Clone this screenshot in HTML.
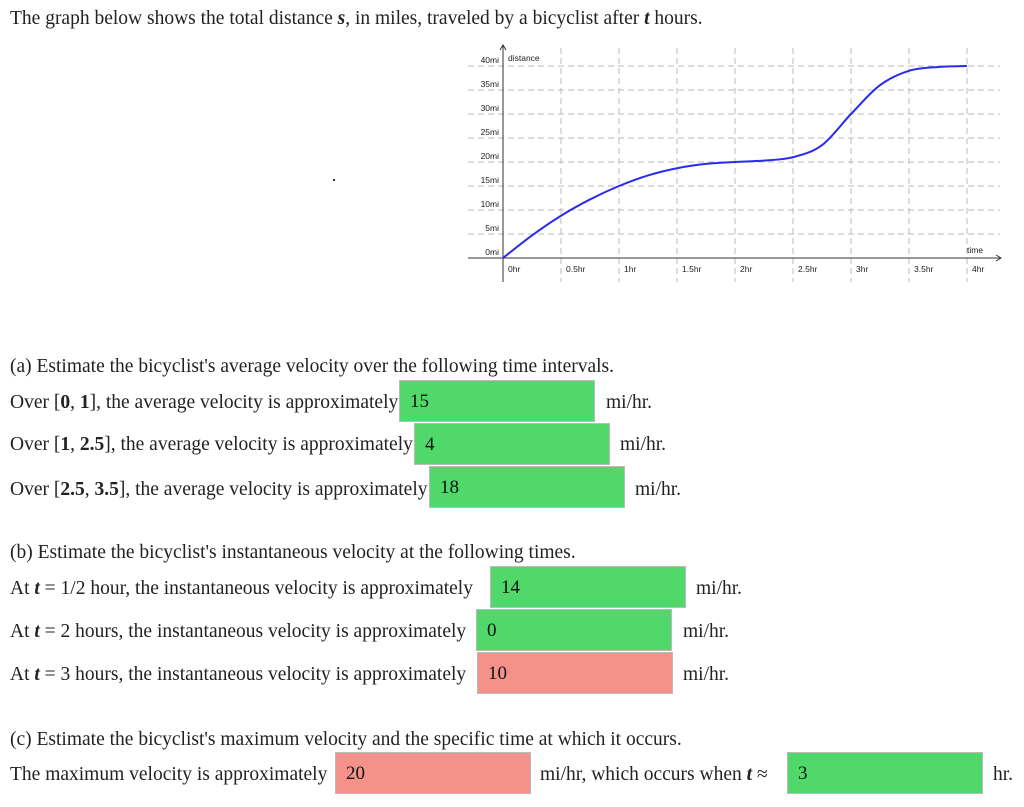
<!DOCTYPE html>
<html><head><meta charset="utf-8"><style>
body{margin:0;width:1024px;height:807px;background:#fff;position:relative;overflow:hidden;font-family:"Liberation Serif",serif;color:#222;font-size:19.5px}
.t{position:absolute;white-space:nowrap;line-height:20px;transform:translateY(2px)}
.in{position:absolute;height:42px;width:196px;box-sizing:border-box;border:1px solid #bbb;font-size:19px;line-height:42px;padding-left:10px;color:#111}
.g{background:#50d96a}.r{background:#f4928a}
svg text{font-family:"Liberation Sans",sans-serif;font-size:8.5px;fill:#222}
</style></head><body>
<div class="t" style="left:10px;top:7px">The graph below shows the total distance <i><b>s</b></i>, in miles, traveled by a bicyclist after <i><b>t</b></i> hours.</div>
<div style="position:absolute;left:333px;top:179px;width:2px;height:2px;background:#2233aa"></div>
<svg style="position:absolute;left:0;top:0" width="1024" height="300" id="chart"></svg>

<div class="t" style="left:10px;top:355px">(a) Estimate the bicyclist's average velocity over the following time intervals.</div>
<div class="t" style="left:10px;top:391px">Over [<b>0</b>, <b>1</b>], the average velocity is approximately</div>
<div class="in g" style="left:399px;top:380px">15</div>
<div class="t" style="left:606px;top:391px">mi/hr.</div>
<div class="t" style="left:10px;top:433px">Over [<b>1</b>, <b>2.5</b>], the average velocity is approximately</div>
<div class="in g" style="left:414px;top:423px">4</div>
<div class="t" style="left:620px;top:433px">mi/hr.</div>
<div class="t" style="left:10px;top:478px">Over [<b>2.5</b>, <b>3.5</b>], the average velocity is approximately</div>
<div class="in g" style="left:429px;top:466px">18</div>
<div class="t" style="left:635px;top:478px">mi/hr.</div>

<div class="t" style="left:10px;top:541px">(b) Estimate the bicyclist's instantaneous velocity at the following times.</div>
<div class="t" style="left:10px;top:577px">At <i><b>t</b></i> = 1/2 hour, the instantaneous velocity is approximately</div>
<div class="in g" style="left:490px;top:566px">14</div>
<div class="t" style="left:696px;top:577px">mi/hr.</div>
<div class="t" style="left:10px;top:620px">At <i><b>t</b></i> = 2 hours, the instantaneous velocity is approximately</div>
<div class="in g" style="left:476px;top:609px">0</div>
<div class="t" style="left:683px;top:620px">mi/hr.</div>
<div class="t" style="left:10px;top:663px">At <i><b>t</b></i> = 3 hours, the instantaneous velocity is approximately</div>
<div class="in r" style="left:477px;top:652px">10</div>
<div class="t" style="left:683px;top:663px">mi/hr.</div>

<div class="t" style="left:10px;top:728px">(c) Estimate the bicyclist's maximum velocity and the specific time at which it occurs.</div>
<div class="t" style="left:10px;top:763px">The maximum velocity is approximately</div>
<div class="in r" style="left:335px;top:752px">20</div>
<div class="t" style="left:540px;top:763px">mi/hr, which occurs when <i><b>t</b></i> ≈</div>
<div class="in g" style="left:787px;top:752px">3</div>
<div class="t" style="left:993px;top:763px">hr.</div>
<script>
const times=[0,0.25,0.5,0.75,1,1.25,1.5,1.75,2,2.25,2.5,2.75,3,3.25,3.5,3.75,4];
const dist=[0,4.7,8.8,12.2,15,17.2,18.7,19.6,20,20.3,21,23.5,30,36,39,39.8,40];
const xTicks=[0,0.5,1,1.5,2,2.5,3,3.5,4];
const xLabels=["0hr","0.5hr","1hr","1.5hr","2hr","2.5hr","3hr","3.5hr","4hr"];
const yTicks=[0,5,10,15,20,25,30,35,40];
const yLabels=["0mi","5mi","10mi","15mi","20mi","25mi","30mi","35mi","40mi"];
const X=t=>503+t*116, Y=d=>258-d*4.8;
const svg=document.getElementById('chart'),NS='http://www.w3.org/2000/svg';
function mk(tag,a){const e=document.createElementNS(NS,tag);for(const k in a)e.setAttribute(k,a[k]);svg.appendChild(e);return e;}
xTicks.forEach((t,i)=>{
  const l=mk('line',{x1:X(t),x2:X(t),y1:48,y2:282,stroke:'#bbb','stroke-dasharray':'6,4'});
  
  
  const tx=mk('text',{x:X(t)+5,y:272});tx.textContent=xLabels[i];
  
  
});
yTicks.forEach((d,i)=>{
  const l=mk('line',{x1:468,x2:1000,y1:Y(d),y2:Y(d),stroke:'#bbb','stroke-dasharray':'6,4'});
  
  
  const tx=mk('text',{x:499,y:Y(d)-3,'text-anchor':'end'});tx.textContent=yLabels[i];
  
  
});
const ax=mk('line',{x1:468,x2:1000,y1:258,y2:258,stroke:'#333'});


const ay=mk('line',{x1:503,x2:503,y1:46,y2:282,stroke:'#333'});


mk('path',{d:'M996,255 L1001,258 L996,261',fill:'none',stroke:'#333'});
mk('path',{d:'M500,50 L503,45 L506,50',fill:'none',stroke:'#333'});
const xt=mk('text',{x:967,y:253});xt.textContent='time';


const yt=mk('text',{x:508,y:61});yt.textContent='distance';


const P=times.map((t,i)=>[X(t),Y(dist[i])]);
let d='M'+P[0][0]+','+P[0][1];
for(let i=0;i<P.length-1;i++){const p0=P[i-1]||P[i],p1=P[i],p2=P[i+1],p3=P[i+2]||P[i+1];
d+=` C${p1[0]+(p2[0]-p0[0])/6},${p1[1]+(p2[1]-p0[1])/6} ${p2[0]-(p3[0]-p1[0])/6},${p2[1]-(p3[1]-p1[1])/6} ${p2[0]},${p2[1]}`;}
const c=mk('path',{d:d,fill:'none',stroke:'#2a2af0','stroke-width':2});


</script>
</body></html>
